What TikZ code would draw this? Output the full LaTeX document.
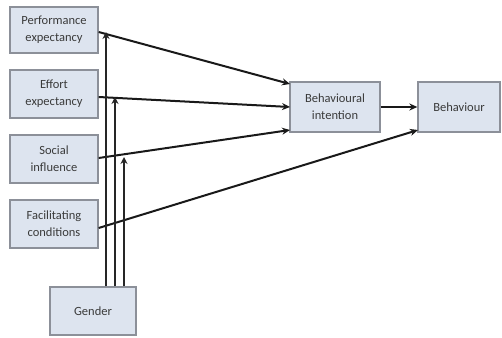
\documentclass[tikz,border=0pt]{standalone}
\usepackage{fontspec}
\setmainfont{Carlito}
\usetikzlibrary{arrows.meta}
\definecolor{boxfill}{HTML}{DDE4EF}
\definecolor{boxline}{HTML}{8C9099}
\definecolor{txt}{HTML}{3A3A3A}
\begin{document}
\begin{tikzpicture}[x=1pt,y=-1pt,
  box/.style={draw=boxline,fill=boxfill,line width=1.3pt,inner sep=0pt,
    text=txt,font=\fontsize{12.5}{17}\selectfont,align=center},
  conn/.style={draw=black!90,line width=2pt,-{Stealth[length=8pt,width=7pt]}},
  mod/.style={draw=black!85,line width=1.8pt,-{Stealth[length=7pt,width=7pt,open]}}]
\useasboundingbox (0,0) rectangle (502,337);
\node[box,minimum width=88pt,minimum height=46pt] (pe) at (54,30) {Performance\\expectancy};
\node[box,minimum width=88pt,minimum height=48pt] (ee) at (54,94) {Effort\\expectancy};
\node[box,minimum width=88pt,minimum height=48pt] (si) at (54,159) {Social\\influence};
\node[box,minimum width=88pt,minimum height=48pt] (fc) at (54,224) {Facilitating\\conditions};
\node[box,minimum width=86pt,minimum height=48pt] (g) at (93,311) {Gender};
\node[box,minimum width=90pt,minimum height=50pt] (bi) at (335,107) {Behavioural\\intention};
\node[box,minimum width=82pt,minimum height=50pt] (b) at (459,107) {Behaviour};
% main connectors
\coordinate (bi1) at (290,84);
\coordinate (bi2) at (290,107);
\coordinate (bi3) at (290,130);
\coordinate (b2) at (418,130);
\draw[conn] (pe.east|-98,32) -- (bi1);
\draw[conn] (ee.east|-98,97) -- (bi2);
\draw[conn] (si.east|-98,158) -- (bi3);
\draw[conn] (fc.east|-98,228) -- (b2);
\draw[conn] (bi.east) -- (b.west);
% gender moderators
\coordinate (m1) at (106,32);
\coordinate (m2) at (115,97);
\coordinate (m3) at (124,157);
\draw[mod,line width=2.2pt] (g.north-|m1) -- (m1);
\draw[mod] (g.north-|m2) -- (m2);
\draw[mod] (g.north-|m3) -- (m3);
\end{tikzpicture}
\end{document}
